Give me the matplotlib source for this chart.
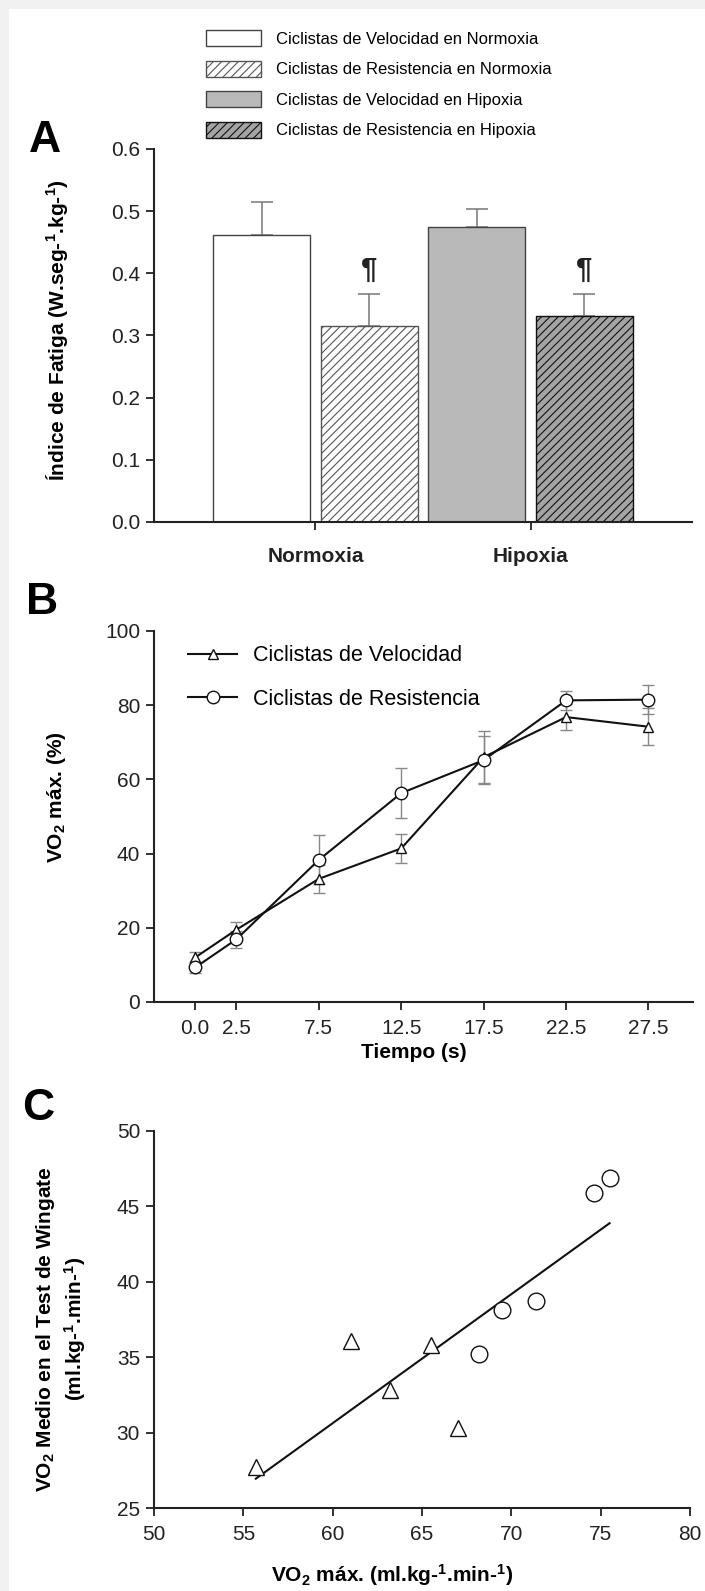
import numpy as np
import matplotlib
matplotlib.use('Agg')
import matplotlib.pyplot as plt
from matplotlib.patches import Patch, Rectangle
from matplotlib.lines import Line2D

plt.rcParams['font.family'] = ['Liberation Sans', 'DejaVu Sans']
plt.rcParams['mathtext.fontset'] = 'custom'
plt.rcParams['mathtext.rm'] = 'Liberation Sans'
plt.rcParams['mathtext.bf'] = 'Liberation Sans:bold'
plt.rcParams['mathtext.default'] = 'bf'
plt.rcParams['hatch.linewidth'] = 0.8

# --- Panel A: indice de fatiga
grupos = ['Normoxia', 'Hipoxia']
series_a = ['Ciclistas de Velocidad en Normoxia', 'Ciclistas de Resistencia en Normoxia',
            'Ciclistas de Velocidad en Hipoxia', 'Ciclistas de Resistencia en Hipoxia']
fatiga = [0.462, 0.316, 0.474, 0.331]
fatiga_err = [0.052, 0.051, 0.030, 0.036]
significativo = [False, True, False, True]

# --- Panel B: VO2 durante el test
tiempo = [0.0, 2.5, 7.5, 12.5, 17.5, 22.5, 27.5]
vo2_vel = [12.0, 19.5, 33.2, 41.4, 66.0, 76.8, 74.2]
vo2_vel_err = [1.5, 2.0, 3.8, 3.8, 7.0, 3.5, 5.0]
vo2_res = [9.3, 16.9, 38.3, 56.3, 65.2, 81.3, 81.5]
vo2_res_err = [1.5, 2.3, 6.6, 6.7, 6.5, 2.5, 4.0]

# --- Panel C: VO2max vs VO2 medio Wingate
vo2max_vel = [55.7, 61.0, 63.2, 65.5, 67.0]
wingate_vel = [27.7, 36.1, 32.8, 35.8, 30.3]
vo2max_res = [68.2, 69.5, 71.4, 74.6, 75.5]
wingate_res = [35.2, 38.1, 38.7, 45.9, 46.9]

W, H = 705, 1591
TAM_TICK = 15
TAM_ETIQ = 15


def caja(l, t, r, b):
    return [l / W, 1 - b / H, (r - l) / W, (b - t) / H]


def estilo(ax):
    for s in ['top', 'right']:
        ax.spines[s].set_visible(False)
    for s in ['left', 'bottom']:
        ax.spines[s].set_linewidth(1.5)
        ax.spines[s].set_color('#222222')
    ax.tick_params(direction='out', length=6, width=1.3, labelsize=TAM_TICK, colors='#222222', pad=4)


def etiqueta_y(ax, texto, x, y, **kw):
    ax.set_ylabel(texto, fontweight='bold', fontsize=TAM_ETIQ, **kw)
    ax.yaxis.label.set_va('center')
    ax.yaxis.set_label_coords(x, y)


def etiqueta_x(ax, texto, x, y):
    ax.set_xlabel(texto, fontweight='bold', fontsize=TAM_ETIQ)
    ax.xaxis.label.set_va('center')
    ax.xaxis.set_label_coords(x, y)


fig = plt.figure(figsize=(W / 100, H / 100), dpi=100)
fig.patch.set_facecolor('#f1f1f1')
fig.patches.append(Rectangle((9 / W, 0), 1, 1 - 9 / H, transform=fig.transFigure,
                             facecolor='white', edgecolor='none', zorder=-10))

# ---------------- A
axA = fig.add_axes(caja(154, 149, 692, 522))
estilo(axA)
colores = ['white', 'white', '#b9b9b9', '#a4a4a4']
bordes = ['#444444', '#555555', '#444444', '#111111']
tramas = [None, '////', None, '////']
xa = np.arange(len(fatiga))
axA.errorbar(xa, fatiga, yerr=[np.zeros(len(fatiga)), fatiga_err], fmt='none',
             ecolor='#777777', elinewidth=1.1, capsize=8, capthick=1.1, zorder=1)
for i in range(len(fatiga)):
    axA.bar(xa[i], fatiga[i], width=0.9, color=colores[i], edgecolor=bordes[i],
            hatch=tramas[i], linewidth=1.0, zorder=2)
    if significativo[i]:
        axA.text(xa[i], fatiga[i] + fatiga_err[i] + 0.016, '¶', ha='center', va='bottom',
                 fontsize=21, fontweight='bold', color='#222222')
axA.set_xlim(-1.0, 4.0)
axA.set_ylim(0, 0.6)
axA.set_yticks(np.arange(0, 0.61, 0.1))
axA.set_yticklabels([f'{v:.1f}' for v in np.arange(0, 0.61, 0.1)])
axA.set_xticks([0.5, 2.5])
axA.set_xticklabels(grupos, fontweight='bold', fontsize=TAM_ETIQ)
axA.tick_params(axis='x', pad=12)
etiqueta_y(axA, 'Índice de Fatiga (W.seg-$^1$.kg-$^1$)', -0.180, 0.515)

manijas = [Patch(facecolor=colores[i], edgecolor=bordes[i], hatch=tramas[i], linewidth=1.0)
           for i in range(4)]
fig.legend(handles=manijas, labels=series_a, loc='upper left', bbox_to_anchor=(206 / W, 1 - 30 / H),
           frameon=False, fontsize=12, handlelength=3.3, handleheight=1.1, labelspacing=0.83,
           handletextpad=0.9, borderpad=0, borderaxespad=0)

# ---------------- B
axB = fig.add_axes(caja(154, 631, 693, 1002))
estilo(axB)
axB.errorbar(tiempo, vo2_vel, yerr=vo2_vel_err, fmt='none', ecolor='#888888', elinewidth=1,
             capsize=4, capthick=1, zorder=1)
axB.errorbar(tiempo, vo2_res, yerr=vo2_res_err, fmt='none', ecolor='#888888', elinewidth=1,
             capsize=4, capthick=1, zorder=1)
axB.plot(tiempo, vo2_vel, color='#111111', lw=1.5, marker='^', ms=7, mfc='white', mec='#111111',
         mew=1.0, zorder=3)
axB.plot(tiempo, vo2_res, color='#111111', lw=1.5, marker='o', ms=9, mfc='white', mec='#111111',
         mew=1.0, zorder=4)
axB.set_xlim(-2.5, 30.2)
axB.set_ylim(0, 100)
axB.set_yticks(range(0, 101, 20))
axB.set_xticks(tiempo)
axB.set_xticklabels([f'{t:.1f}' for t in tiempo])
axB.tick_params(axis='x', pad=6)
etiqueta_x(axB, 'Tiempo (s)', 0.482, -0.135)
etiqueta_y(axB, 'VO$_2$ máx. (%)', -0.180, 0.553)
lineas_b = [Line2D([], [], color='#111111', lw=1.5, marker='^', ms=7, mfc='white', mec='#111111'),
            Line2D([], [], color='#111111', lw=1.5, marker='o', ms=9, mfc='white', mec='#111111')]
axB.legend(lineas_b, ['Ciclistas de Velocidad', 'Ciclistas de Resistencia'], loc='upper left',
           bbox_to_anchor=(0.063, 0.9615), frameon=False, fontsize=15.5, handlelength=2.3,
           labelspacing=1.05, handletextpad=0.7, borderpad=0, borderaxespad=0)

# ---------------- C
axC = fig.add_axes(caja(154, 1131, 690, 1508))
estilo(axC)
todos_x = np.array(vo2max_vel + vo2max_res)
todos_y = np.array(wingate_vel + wingate_res)
pend, orde = np.polyfit(todos_x, todos_y, 1)
xr = np.array([todos_x.min(), todos_x.max()])
axC.plot(xr, pend * xr + orde, color='#111111', lw=1.5, zorder=2)
axC.plot(vo2max_vel, wingate_vel, ls='none', marker='^', ms=12, mfc='white', mec='#111111',
         mew=1.0, zorder=3)
axC.plot(vo2max_res, wingate_res, ls='none', marker='o', ms=12, mfc='white', mec='#111111',
         mew=1.0, zorder=3)
axC.set_xlim(50, 80)
axC.set_ylim(25, 50)
axC.set_xticks(range(50, 81, 5))
axC.set_yticks(range(25, 51, 5))
axC.tick_params(axis='x', pad=6)
etiqueta_x(axC, 'VO$_2$ máx. (ml.kg-$^1$.min-$^1$)', 0.445, -0.178)
etiqueta_y(axC, 'VO$_2$ Medio en el Test de Wingate\n(ml.kg-$^1$.min-$^1$)', -0.1735, 0.475,
           linespacing=1.3)

# letras de panel
for letra, x, y in [('A', 45, 141), ('B', 42, 602), ('C', 38, 1109)]:
    fig.text(x / W, 1 - y / H, letra, fontsize=32, fontweight='bold', ha='center', va='center')

fig.savefig('out.png', dpi=100, facecolor=fig.get_facecolor())
